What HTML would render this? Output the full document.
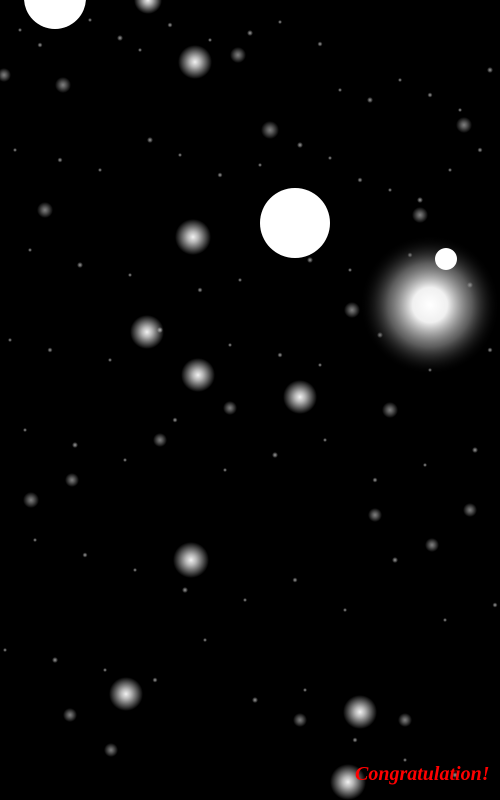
<!DOCTYPE html>
<html><head><meta charset="utf-8">
<style>
html,body{margin:0;padding:0;background:#000;width:500px;height:800px;overflow:hidden}
svg{display:block}
.msg{position:absolute;left:355px;top:763px;color:#f00;font-family:"Liberation Serif",serif;font-style:italic;font-weight:bold;font-size:20px}
</style></head>
<body>
<svg id="sky" width="500" height="800" viewBox="0 0 500 800">
<defs>
<radialGradient id="glow"><stop offset="0" stop-color="#fff" stop-opacity="1"/><stop offset="0.3" stop-color="#fff" stop-opacity="0.75"/><stop offset="1" stop-color="#fff" stop-opacity="0"/></radialGradient>
<radialGradient id="big"><stop offset="0" stop-color="#fff"/><stop offset="0.25" stop-color="#f0f0f0"/><stop offset="0.6" stop-color="#999" stop-opacity="0.6"/><stop offset="1" stop-color="#000" stop-opacity="0"/></radialGradient>
</defs>
<rect width="500" height="800" fill="#000"/>
</svg>
<div class="msg">Congratulation!</div>
<script>
const solidX=[55,295,446];
const solidY=[-2,223,259];
const solidR=[31,35,11];
const glowX=[148,195,193,147,198,300,191,126,360,348,270,238,63,45,4,464,390,352,420,31,160,230,72,375,470,432,70,111,300,405];
const glowY=[0,62,237,332,375,397,560,694,712,782,130,55,85,210,75,125,410,310,215,500,440,408,480,515,510,545,715,750,720,720];
const glowR=[14,17,18,17,17,17,18,17,17,18,9,8,8,8,7,8,8,8,8,8,7,7,7,7,7,7,7,7,7,7];
const dotX=[20,40,90,120,140,170,210,250,280,320,340,370,400,430,460,490,15,60,100,150,180,220,260,300,330,360,390,420,450,480,30,80,130,200,240,310,350,410,440,470,10,50,110,160,230,280,320,380,430,490,25,75,125,175,225,275,325,375,425,475,35,85,135,185,245,295,345,395,445,495,5,55,105,155,205,255,305,355,405,455];
const dotY=[30,45,20,38,50,25,40,33,22,44,90,100,80,95,110,70,150,160,170,140,155,175,165,145,158,180,190,200,170,150,250,265,275,290,280,260,270,255,300,285,340,350,360,330,345,355,365,335,370,350,430,445,460,420,470,455,440,480,465,450,540,555,570,590,600,580,610,560,620,605,650,660,670,680,640,700,690,740,760,775];
const dotR=[2,2.5,2,3,2,2.5,2,3,2,2.5,2,3,2,2.5,2,3,2,2.5,2,3,2,2.5,2,3,2,2.5,2,3,2,2.5,2,3,2,2.5,2,3,2,2.5,2,3,2,2.5,2,3,2,2.5,2,3,2,2.5,2,3,2,2.5,2,3,2,2.5,2,3,2,2.5,2,3,2,2.5,2,3,2,2.5,2,3,2,2.5,2,3,2,2.5,2,3];
const NS='http://www.w3.org/2000/svg';
const svg=document.getElementById('sky');
function mk(cx,cy,r,fill,op){const c=document.createElementNS(NS,'circle');c.setAttribute('cx',cx);c.setAttribute('cy',cy);c.setAttribute('r',r);c.setAttribute('fill',fill);if(op!==undefined)c.setAttribute('opacity',op);svg.appendChild(c);return c;}
for(let i=0;i<dotX.length;i++){const c=mk(dotX[i],dotY[i],dotR[i],'url(#glow)',0.6);

}
const n=mk(430,305,70,'url(#big)');


for(let i=0;i<glowX.length;i++){const c=mk(glowX[i],glowY[i],glowR[i],'url(#glow)',i<10?0.95:0.5);

}
for(let i=0;i<solidX.length;i++){const c=mk(solidX[i],solidY[i],solidR[i],'#fff');

}
</script>
</body></html>
